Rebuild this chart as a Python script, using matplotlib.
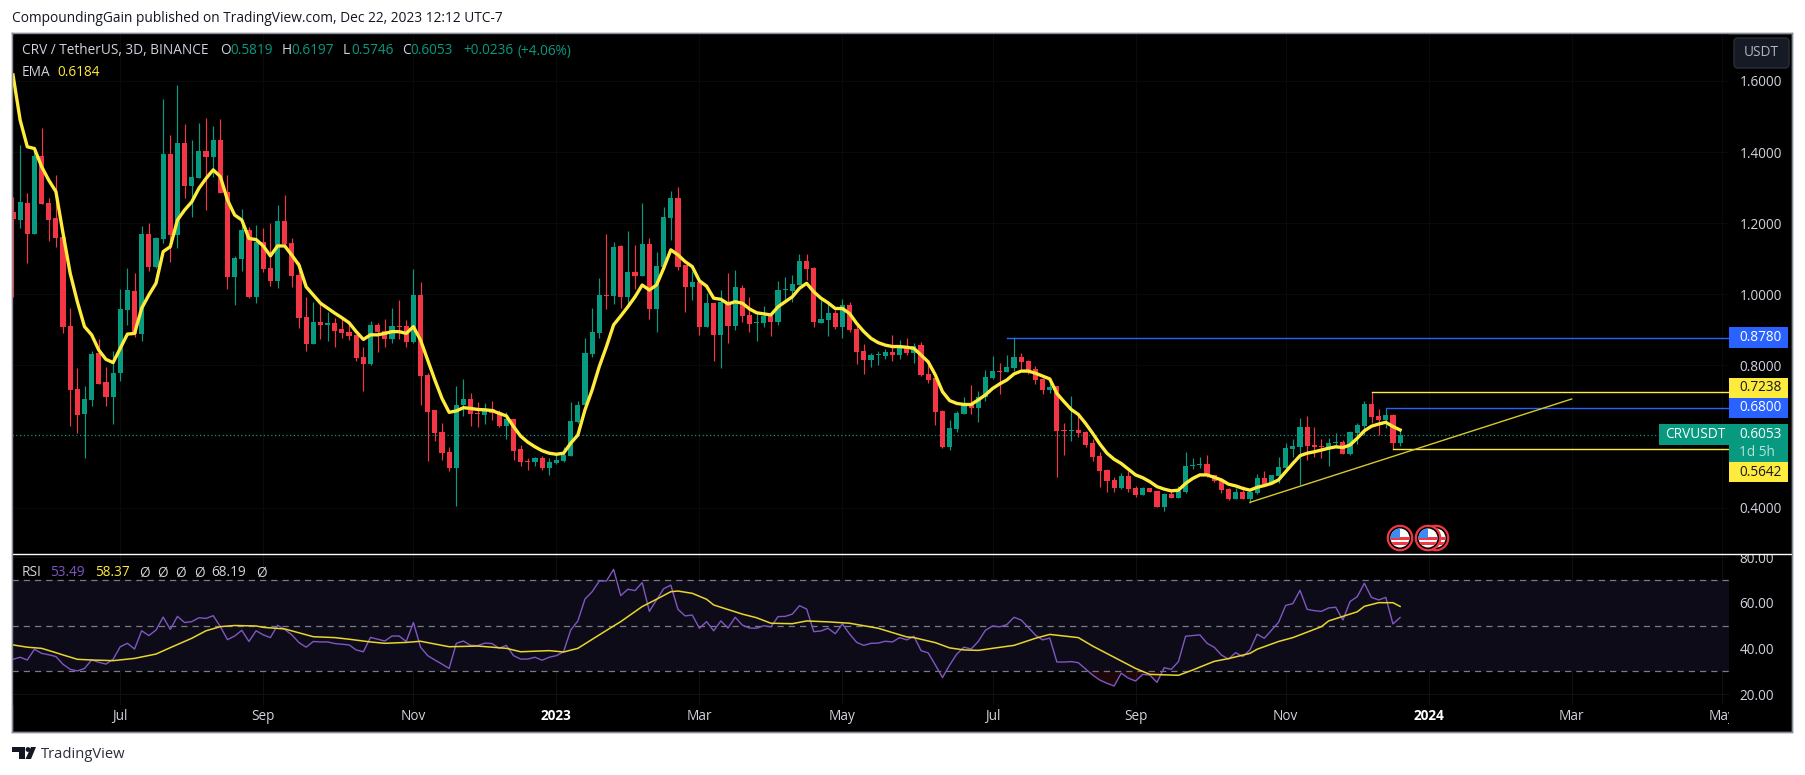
import matplotlib
matplotlib.use("Agg")
import matplotlib.pyplot as plt
from matplotlib.patches import Rectangle, Circle, Polygon, FancyBboxPatch
import numpy as np

plt.rcParams["font.family"] = ["Open Sans", "DejaVu Sans"]

W, H = 1805, 775
GREEN = "#089981"
RED = "#F23645"
YELLOW = "#FFEB3B"
BLUE = "#2962FF"
PURPLE = "#7E57C2"
LIGHT = "#d1d4dc"
DARK = "#131722"
FS = 9.85

# candles, 3D bars
opens = [1.232,1.209,1.256,1.171,1.389,1.256,1.214,1.162,0.911,0.734,
         0.663,0.703,0.834,0.753,0.711,0.779,0.956,1.009,0.888,1.170,
         1.078,1.156,1.396,1.167,1.425,1.305,1.328,1.403,1.387,1.434,
         1.287,1.050,1.100,1.181,0.993,1.148,1.073,1.038,1.206,1.143,
         1.053,0.936,0.860,0.922,0.914,0.919,0.902,0.894,0.886,0.824,
         0.804,0.914,0.897,0.874,0.911,0.911,0.866,0.998,0.773,0.675,
         0.613,0.556,0.511,0.689,0.705,0.666,0.661,0.677,0.669,0.630,
         0.649,0.565,0.530,0.528,0.540,0.511,0.525,0.531,0.545,0.641,
         0.689,0.832,0.891,0.998,0.996,1.136,0.992,1.063,1.051,1.141,
         0.959,1.077,1.214,1.271,1.082,1.020,1.035,0.908,0.976,0.886,
         0.978,0.911,1.018,0.942,0.919,0.919,0.939,0.922,1.011,1.009,
         1.026,1.094,1.074,0.919,0.928,0.947,0.908,0.970,0.902,0.840,
         0.815,0.828,0.826,0.838,0.829,0.852,0.835,0.857,0.776,0.765,
         0.672,0.570,0.621,0.664,0.694,0.680,0.711,0.765,0.784,0.781,
         0.793,0.824,0.812,0.790,0.762,0.731,0.742,0.618,0.616,0.618,
         0.613,0.582,0.545,0.506,0.478,0.455,0.489,0.455,0.435,0.455,
         0.447,0.402,0.438,0.427,0.444,0.517,0.519,0.523,0.492,0.478,
         0.452,0.424,0.444,0.424,0.441,0.483,0.466,0.489,0.511,0.565,
         0.570,0.627,0.576,0.573,0.568,0.581,0.584,0.551,0.610,0.630,
         0.691,0.658,0.646,0.660,0.5819]
highs = [1.274,1.420,1.286,1.406,1.467,1.270,1.335,1.181,0.961,0.792,
         0.742,0.840,0.873,0.795,0.840,1.015,1.073,1.059,1.192,1.200,
         1.162,1.549,1.448,1.589,1.479,1.434,1.481,1.495,1.473,1.492,
         1.335,1.108,1.239,1.190,1.195,1.186,1.200,1.251,1.279,1.157,
         1.092,0.991,0.978,0.975,0.951,0.932,0.937,0.918,0.886,0.852,
         0.925,0.918,0.930,0.961,0.984,0.928,1.071,1.034,0.780,0.675,
         0.637,0.570,0.742,0.762,0.722,0.697,0.693,0.700,0.675,0.669,
         0.649,0.576,0.540,0.542,0.545,0.540,0.554,0.570,0.697,0.700,
         0.877,0.961,1.045,1.171,1.146,1.139,1.178,1.139,1.257,1.158,
         1.119,1.246,1.291,1.302,1.082,1.065,1.035,1.003,0.976,1.012,
         1.060,1.068,1.026,0.992,0.947,0.967,0.950,1.037,1.049,1.054,
         1.113,1.113,1.077,0.984,0.978,0.956,0.987,0.978,0.919,0.860,
         0.835,0.840,0.845,0.886,0.871,0.877,0.863,0.866,0.801,0.765,
         0.675,0.646,0.672,0.711,0.745,0.728,0.787,0.826,0.807,0.829,
         0.878,0.835,0.815,0.798,0.765,0.765,0.742,0.638,0.714,0.660,
         0.615,0.592,0.556,0.509,0.486,0.497,0.503,0.461,0.458,0.455,
         0.447,0.441,0.452,0.461,0.556,0.540,0.542,0.548,0.492,0.480,
         0.455,0.455,0.461,0.444,0.494,0.503,0.492,0.542,0.582,0.593,
         0.652,0.658,0.627,0.593,0.596,0.610,0.590,0.615,0.638,0.700,
         0.7238,0.677,0.680,0.663,0.6197]
lows = [0.993,1.186,1.087,1.170,1.254,1.151,1.134,0.890,0.630,0.611,
        0.540,0.686,0.748,0.686,0.635,0.756,0.914,0.881,0.869,1.065,
        1.075,1.143,1.092,1.129,1.270,1.218,1.328,1.237,1.331,1.284,
        1.014,0.970,1.066,0.990,0.976,1.064,1.023,1.017,1.139,1.020,
        0.904,0.841,0.860,0.873,0.870,0.853,0.878,0.871,0.812,0.728,
        0.801,0.838,0.853,0.863,0.873,0.853,0.863,0.689,0.531,0.587,
        0.534,0.503,0.405,0.658,0.630,0.627,0.635,0.646,0.627,0.593,
        0.534,0.517,0.506,0.517,0.506,0.492,0.523,0.528,0.545,0.638,
        0.689,0.824,0.877,0.959,0.973,0.961,0.967,1.015,1.051,0.931,
        0.894,1.077,1.153,1.068,0.950,0.984,0.886,0.908,0.812,0.793,
        0.863,0.900,0.922,0.894,0.869,0.908,0.883,0.914,0.984,0.978,
        1.026,1.040,0.908,0.919,0.883,0.902,0.877,0.894,0.804,0.776,
        0.796,0.801,0.818,0.812,0.818,0.829,0.807,0.770,0.751,0.632,
        0.568,0.562,0.613,0.664,0.663,0.641,0.700,0.762,0.720,0.781,
        0.784,0.790,0.776,0.748,0.720,0.722,0.486,0.548,0.587,0.599,
        0.570,0.531,0.458,0.444,0.444,0.452,0.444,0.430,0.435,0.444,
        0.402,0.390,0.427,0.427,0.441,0.509,0.511,0.486,0.472,0.441,
        0.421,0.424,0.424,0.413,0.438,0.461,0.466,0.469,0.500,0.542,
        0.464,0.534,0.542,0.540,0.517,0.573,0.551,0.548,0.579,0.604,
        0.638,0.604,0.624,0.5642,0.5746]
closes = [1.212,1.260,1.170,1.389,1.254,1.209,1.159,0.909,0.731,0.661,
          0.705,0.832,0.748,0.711,0.779,0.959,1.012,0.888,1.170,1.078,
          1.158,1.396,1.167,1.425,1.305,1.329,1.403,1.387,1.434,1.284,
          1.050,1.101,1.181,0.993,1.148,1.072,1.038,1.206,1.141,1.052,
          0.934,0.860,0.922,0.914,0.918,0.897,0.891,0.883,0.821,0.804,
          0.914,0.894,0.874,0.911,0.908,0.866,0.998,0.770,0.669,0.610,
          0.554,0.511,0.689,0.705,0.663,0.663,0.677,0.666,0.630,0.649,
          0.559,0.528,0.528,0.540,0.510,0.528,0.534,0.548,0.644,0.689,
          0.835,0.894,0.998,0.996,1.134,0.992,1.063,1.051,1.141,0.959,
          1.080,1.217,1.271,1.077,1.020,1.035,0.908,0.976,0.886,0.978,
          0.911,1.020,0.939,0.916,0.922,0.939,0.922,1.012,1.015,1.029,
          1.094,1.071,0.922,0.931,0.947,0.908,0.970,0.900,0.838,0.815,
          0.829,0.831,0.839,0.829,0.852,0.835,0.855,0.773,0.759,0.669,
          0.570,0.624,0.666,0.694,0.680,0.711,0.767,0.784,0.782,0.795,
          0.824,0.810,0.787,0.759,0.731,0.739,0.615,0.616,0.619,0.610,
          0.576,0.542,0.503,0.475,0.455,0.489,0.452,0.435,0.455,0.444,
          0.402,0.438,0.427,0.447,0.517,0.520,0.522,0.489,0.475,0.450,
          0.424,0.444,0.424,0.444,0.483,0.466,0.492,0.514,0.568,0.573,
          0.627,0.573,0.570,0.570,0.582,0.584,0.551,0.613,0.632,0.691,
          0.655,0.646,0.660,0.582,0.6053]
ema = [1.617,1.490,1.415,1.410,1.359,1.321,1.289,1.171,1.059,0.979,
       0.909,0.886,0.843,0.817,0.808,0.848,0.888,0.890,0.961,0.998,
       1.031,1.120,1.134,1.209,1.237,1.260,1.298,1.326,1.350,1.331,
       1.265,1.223,1.209,1.157,1.154,1.136,1.108,1.136,1.136,1.110,
       1.082,1.021,0.998,0.975,0.961,0.947,0.934,0.920,0.895,0.873,
       0.886,0.886,0.890,0.895,0.895,0.890,0.909,0.871,0.815,0.759,
       0.707,0.668,0.672,0.681,0.679,0.676,0.675,0.673,0.665,0.658,
       0.628,0.601,0.584,0.571,0.560,0.553,0.550,0.553,0.581,0.604,
       0.675,0.731,0.797,0.853,0.914,0.939,0.965,0.993,1.026,1.012,
       1.026,1.073,1.125,1.111,1.092,1.078,1.038,1.023,0.989,0.986,
       0.973,0.979,0.975,0.959,0.948,0.945,0.942,0.965,0.979,0.993,
       1.017,1.031,1.007,0.989,0.976,0.960,0.960,0.946,0.918,0.895,
       0.876,0.864,0.857,0.853,0.853,0.851,0.848,0.829,0.810,0.773,
       0.726,0.701,0.693,0.690,0.690,0.703,0.717,0.735,0.748,0.759,
       0.776,0.784,0.784,0.778,0.770,0.762,0.721,0.698,0.676,0.662,
       0.637,0.609,0.579,0.553,0.536,0.524,0.508,0.492,0.484,0.473,
       0.459,0.452,0.447,0.449,0.468,0.482,0.492,0.492,0.485,0.478,
       0.466,0.461,0.454,0.449,0.457,0.462,0.468,0.478,0.501,0.524,
       0.546,0.553,0.557,0.562,0.567,0.571,0.569,0.576,0.595,0.616,
       0.629,0.635,0.640,0.628,0.6184]

rsi = [35.2,36.1,34.9,39.6,37.8,37.2,36.4,33.0,30.8,30.1,
       31.2,34.9,33.9,33.1,35.2,40.7,42.2,39.7,47.7,45.6,
       48.0,53.7,48.3,54.0,51.3,51.7,53.4,53.1,54.3,49.5,
       43.8,45.4,47.9,43.0,47.7,45.9,44.7,50.1,48.3,45.9,
       42.5,40.5,43.0,42.8,42.8,42.1,41.8,41.5,39.3,38.5,
       44.8,44.0,43.2,45.4,45.4,43.0,51.3,40.5,36.8,34.9,
       33.1,31.2,42.2,43.2,41.3,41.2,42.3,42.1,40.0,41.3,
       36.8,35.3,35.3,36.1,34.8,36.1,36.8,38.5,48.0,52.0,
       61.6,64.8,69.5,69.5,74.6,63.1,65.9,65.3,68.8,56.2,
       61.2,66.1,67.7,57.1,54.2,54.6,48.8,51.7,47.7,52.0,
       48.9,53.6,50.2,48.9,48.8,49.9,49.4,53.9,54.0,55.0,
       58.7,57.2,47.3,47.6,48.8,46.4,50.7,46.3,42.6,41.3,
       42.2,42.3,43.1,42.8,44.7,43.7,45.3,39.0,38.0,32.7,
       27.2,32.7,37.5,40.5,39.7,43.0,47.9,49.8,49.4,50.4,
       53.6,52.4,49.2,45.8,43.7,44.5,34.0,34.0,34.2,33.7,
       31.0,28.3,26.1,24.7,23.5,29.1,26.9,25.7,28.6,28.3,
       25.1,31.5,30.8,34.2,45.3,45.6,45.9,42.2,40.5,37.1,
       35.3,38.1,36.4,39.3,46.2,44.4,47.9,51.4,58.8,59.6,
       65.4,57.1,56.5,56.2,57.7,58.0,52.4,60.5,62.6,68.5,
       62.3,61.2,62.3,50.7,53.49]
rsi_ma_bar = [0,2,4,6,7,9,11,14,17,20,22,25,27,29,31,34,35,38,42,45,47,50,52,55,57,61,65,69,71,75,77,79,82,
              84,85,88,90,92,93,95,97,98,102,104,106,109,111,114,117,121,125,126,129,131,133,135,137,140,
              143,145,149,151,154,157,159,163,165,166,168,170,173,174,177,179,183,184,188,189,191,193,194]
rsi_ma = [41.5,40.5,40.0,38.1,37.1,35.2,34.9,34.6,35.6,37.5,40.3,44.4,47.7,49.5,50.0,49.8,49.2,48.5,45.1,44.7,44.0,42.8,42.2,42.6,43.1,40.7,41.0,40.0,38.5,39.0,38.4,40.0,45.9,
          49.8,51.7,58.3,61.5,64.8,65.1,64.1,61.5,59.0,55.0,53.4,51.0,50.8,52.0,51.6,51.0,48.8,45.0,44.7,42.5,40.2,39.3,39.1,40.0,41.3,
          44.4,46.1,44.7,41.0,36.1,31.2,28.6,28.2,30.5,31.8,34.3,35.5,37.8,39.6,43.0,44.7,49.5,52.0,56.0,58.4,60.0,60.0,58.37]

# time axis, bar position of each label
time_bars = [15,35,56,76,96,116,137,157,178,198,218,239]
time_labels = ["Jul","Sep","Nov","2023","Mar","May","Jul","Sep","Nov","2024","Mar","May"]
price_ticks = [0.4,0.8,1.0,1.2,1.4,1.6]
rsi_ticks = [20,40,60,80]

# drawings: price, first bar
level_prices = [0.8780,0.7238,0.6800,0.5642]
level_bars = [139,190,192,193]
level_colors = [BLUE,YELLOW,BLUE,YELLOW]
last_price = 0.6053
trend_bars = [173,218]
trend_prices = [0.4148,0.7055]

BAR_PX = 7.15
X0 = 13.0
x_left = (12 - X0) / BAR_PX
x_right = (1729 - X0) / BAR_PX


def px_axes(l, t, r, b, **kw):
    return fig.add_axes([l / W, 1 - b / H, (r - l) / W, (b - t) / H], **kw)


fig = plt.figure(figsize=(W / 100, H / 100), dpi=100, facecolor="white")

# black panel behind everything
bg = px_axes(12, 33, 1792, 732, facecolor="black")
bg.set_xticks([])
bg.set_yticks([])
for s in bg.spines.values():
    s.set_color("#8a8d96")
    s.set_linewidth(1)

# price pane
ax = px_axes(12, 33.5, 1729, 554, facecolor="black")
ax.set_xlim(x_left, x_right)
ax.set_ylim(1.6 - (554 - 81) / 355.5, 1.6 + (81 - 33.5) / 355.5)
for s in ax.spines.values():
    s.set_visible(False)

bars = np.arange(len(closes))
o = np.array(opens)
c = np.array(closes)
colors = [GREEN if c[i] >= o[i] else RED for i in bars]

ax.vlines(bars, lows, highs, colors=colors, linewidth=0.85, zorder=3)
ax.bar(bars, np.maximum(np.abs(c - o), 0.0028), bottom=np.minimum(o, c), width=0.72,
       color=colors, linewidth=0, zorder=3)
ax.plot(bars, ema, color=YELLOW, linewidth=2.4, zorder=4, solid_joinstyle="round")

ax.axhline(last_price, color=GREEN, linewidth=0.9, linestyle=(0, (1, 2)), zorder=2)
for p, b, col in zip(level_prices, level_bars, level_colors):
    ax.plot([b, x_right], [p, p], color=col, linewidth=1.0, zorder=3)
ax.plot(trend_bars, trend_prices, color="#d8c72f", linewidth=1.0, zorder=3)

ax.set_xticks(time_bars)
ax.set_xticklabels([])
ax.tick_params(axis="x", length=0)
ax.yaxis.tick_right()
ax.set_yticks(price_ticks)
ax.set_yticklabels(["%.4f" % t for t in price_ticks])
ax.tick_params(axis="y", length=0, pad=7.5, labelsize=FS, labelcolor=LIGHT)
ax.grid(True, color="#090a0c", linewidth=0.8)
ax.set_axisbelow(True)

# rsi pane
ax2 = px_axes(12, 555, 1729, 705, facecolor="black")
ax2.set_xlim(x_left, x_right)
ax2.set_ylim(20 - (705 - 694) / 2.283, 20 + (694 - 555) / 2.283)
for s in ax2.spines.values():
    s.set_visible(False)
ax2.axhspan(30, 70, color="#0e0b18", linewidth=0, zorder=1)
for lvl in [70, 50, 30]:
    ax2.axhline(lvl, color="#787b86", linewidth=0.9, linestyle=(0, (5, 4)), zorder=2)
r = np.array(rsi)
ax2.fill_between(bars, r, 30, where=r < 30, interpolate=True, color=RED, alpha=0.12, linewidth=0, zorder=2)
ax2.plot(bars, rsi, color=PURPLE, linewidth=1.0, zorder=3)
ax2.plot(rsi_ma_bar, rsi_ma, color="#e8d52e", linewidth=1.1, zorder=4)

ax2.yaxis.tick_right()
ax2.set_yticks(rsi_ticks)
ax2.set_yticklabels(["%.2f" % t for t in rsi_ticks])
ax2.tick_params(axis="y", length=0, pad=7.5, labelsize=FS, labelcolor=LIGHT)
ax2.set_xticks(time_bars)
ax2.set_xticklabels(time_labels)
ax2.tick_params(axis="x", length=0, pad=3.2, labelsize=FS, labelcolor=LIGHT)
for lab in ax2.get_xticklabels():
    if lab.get_text().isdigit():
        lab.set_fontweight("bold")
        lab.set_color("white")
ax2.grid(True, color="#100e17", linewidth=0.8, zorder=1)
ax2.set_axisbelow(True)

# overlay in pixel coordinates for the labels and chrome
ov = fig.add_axes([0, 0, 1, 1], facecolor="none", zorder=10)
ov.set_xlim(0, W)
ov.set_ylim(H, 0)
ov.axis("off")

# clip of the 80.00 label and the last May label
ov.add_patch(Rectangle((1729, 545), 62, 9, color="black", linewidth=0))
ov.add_patch(Rectangle((1729, 706), 62, 25, color="black", linewidth=0))
ov.plot([12, 1792], [554, 554], color="white", linewidth=1.0)
ov.plot([12, 1792, 1792, 12, 12], [33, 33, 732, 732, 33], color="#8a8d96", linewidth=1.0)


def label(x, y, s, color=LIGHT, size=FS, ha="left", **kw):
    ov.text(x, y, s, color=color, fontsize=size, ha=ha, va="center", **kw)


label(12, 18, "CompoundingGain published on TradingView.com, Dec 22, 2023 12:12 UTC-7", color=DARK, size=9.93)

label(22, 51, "CRV / TetherUS, 3D, BINANCE", color=LIGHT)
for x, s, col in [(220, "O", LIGHT), (230, "0.5819", GREEN), (281.5, "H", LIGHT), (291, "0.6197", GREEN),
                  (343, "L", LIGHT), (351, "0.5746", GREEN), (402, "C", LIGHT), (410, "0.6053", GREEN),
                  (463, "+0.0236", GREEN), (518, "(+4.06%)", GREEN)]:
    label(x, 51, s, color=col)
label(22, 72, "EMA", color=LIGHT)
label(57, 72, "0.6184", color=YELLOW)

label(22, 573, "RSI", color=LIGHT)
for x, s, col in [(50, "53.49", PURPLE), (95, "58.37", YELLOW), (139, "Ø", LIGHT), (157, "Ø", LIGHT),
                  (175, "Ø", LIGHT), (194, "Ø", LIGHT), (211.5, "68.19", LIGHT), (256, "Ø", LIGHT)]:
    label(x, 573, s, color=col)

# USDT button
ov.add_patch(FancyBboxPatch((1736, 40), 51, 26, boxstyle="round,pad=2,rounding_size=4",
                            facecolor="#161a25", edgecolor="#2a2e39", linewidth=1))
label(1761.5, 53, "USDT", color="#b2b5be", ha="center")

# price boxes
for top, bot, col, txt, tcol in [(327, 347.5, BLUE, "0.8780", "white"),
                                 (377.5, 397.5, YELLOW, "0.7238", DARK),
                                 (397.5, 418, BLUE, "0.6800", "white"),
                                 (462, 482, YELLOW, "0.5642", DARK)]:
    ov.add_patch(Rectangle((1729, top), 59, bot - top, color=col, linewidth=0))
    label(1739, (top + bot) / 2, txt, color=tcol)
ov.add_patch(Rectangle((1659, 424), 70, 20.5, color=GREEN, linewidth=0))
ov.add_patch(Rectangle((1729, 424), 59, 38, color=GREEN, linewidth=0))
label(1665, 434.5, "CRVUSDT", color="white")
label(1739, 434.5, "0.6053", color="white")
label(1739, 452, "1d 5h", color="#b5e3d8")


# event flags
def flag(cx, cy):
    ov.add_patch(Circle((cx, cy), 12.2, facecolor="black", edgecolor=RED, linewidth=1.6))
    face = Circle((cx, cy), 9.5, facecolor="white", edgecolor="none")
    ov.add_patch(face)
    for yy in [cy - 1, cy + 4]:
        st = Rectangle((cx - 10, yy), 20, 3.2, color=RED, linewidth=0)
        ov.add_patch(st)
        st.set_clip_path(face)
    canton = Rectangle((cx - 10, cy - 10), 10, 10, color="#3d8bf2", linewidth=0)
    ov.add_patch(canton)
    canton.set_clip_path(face)


flag(1436, 538)
flag(1428, 538)
flag(1400, 538)

# watermark
ov.add_patch(Polygon([(12, 747), (25, 747), (25, 759), (19, 759), (19, 752), (12, 752)], color=DARK, linewidth=0))
ov.add_patch(Circle((28, 749.5), 2.4, color=DARK, linewidth=0))
ov.add_patch(Polygon([(31, 747), (36, 747), (31, 759), (25.5, 759)], color=DARK, linewidth=0))
label(41, 754, "TradingView", color="#2a2e39", size=10.6)

fig.savefig("out.png", dpi=100, facecolor="white")
